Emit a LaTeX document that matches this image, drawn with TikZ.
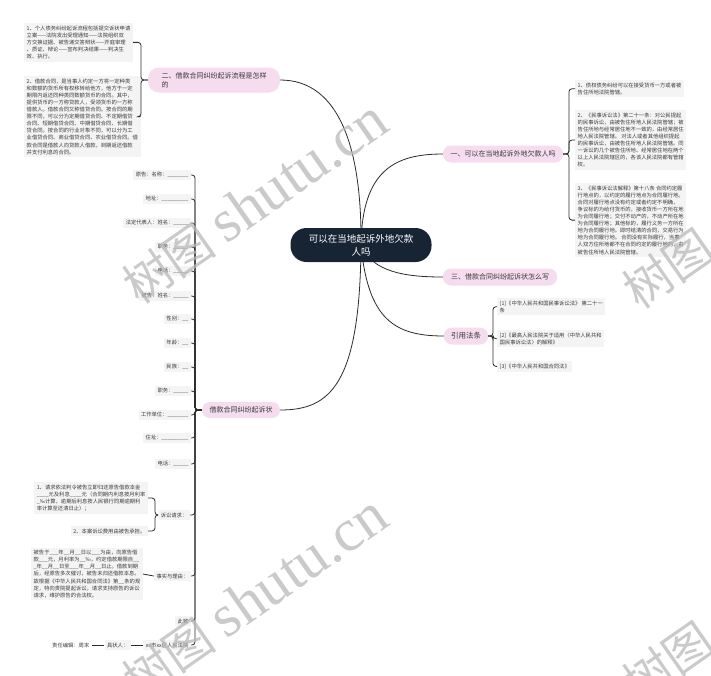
\documentclass[tikz,border=0pt]{standalone}
\usepackage{fontspec}
\setmainfont{Noto Sans CJK SC}
\newfontfamily\wmlatin{Liberation Serif}
\usetikzlibrary{backgrounds}
\definecolor{navy}{HTML}{172434}
\definecolor{pinkfill}{HTML}{F5DCEE}
\definecolor{leafgray}{HTML}{F4F4F4}
\definecolor{txt}{HTML}{3A3A3A}
\definecolor{linec}{HTML}{2B2B2B}
\begin{document}
\begin{tikzpicture}[x=1pt,y=-1pt,
  root/.style={rectangle, rounded corners=16pt, fill=navy, text=white,
    font=\fontsize{9.5}{13}\selectfont, align=center,
    minimum width=141pt, minimum height=34pt, inner sep=0pt},
  branch/.style={rectangle, rounded corners=8pt, fill=pinkfill, text=txt,
    font=\fontsize{7}{9}\selectfont, inner xsep=4pt, inner ysep=0pt,
    minimum height=17pt, align=left},
  leaf/.style={rectangle, fill=leafgray, text=txt,
    font=\fontsize{5.3}{7.1}\selectfont, align=left,
    inner xsep=2.5pt, inner ysep=2.5pt},
  conn/.style={draw=linec, line width=0.8pt},
  brk/.style={conn, rounded corners=3pt},
  wm/.style={text=black!28, text opacity=0.75, rotate=35, inner sep=0pt,
    font=\fontsize{48}{48}\selectfont}
]
\useasboundingbox (0,0) rectangle (711,675);

% root and branches
\node[root] (root) at (361,245) {可以在当地起诉外地欠款\\人吗};
\node[branch, minimum width=120pt] (b1) at (503,154) {一、可以在当地起诉外地欠款人吗};
\node[branch, minimum width=114pt] (b3) at (500,277) {三、借款合同纠纷起诉状怎么写};
\node[branch, minimum width=44pt, font=\fontsize{7.5}{9}\selectfont] (b4) at (466,336) {引用法条};
\node[branch, minimum width=132pt, minimum height=25pt, rounded corners=11pt] (b2) at (214,80) {二、借款合同纠纷起诉流程是怎样\\的};
\node[branch, minimum width=78pt, minimum height=16pt] (b5) at (241,410) {借款合同纠纷起诉状};

% leaves of b1
\node[leaf, anchor=north west] (l1a) at (575,80) {1、债权债务纠纷可以在接受货币一方或者被\\告住所地法院管辖。};
\node[leaf, anchor=north west] (l1b) at (575,110) {2、《民事诉讼法》第二十一条：对公民提起\\的民事诉讼，由被告住所地人民法院管辖；被\\告住所地与经常居住地不一致的，由经常居住\\地人民法院管辖。 对法人或者其他组织提起\\的民事诉讼，由被告住所地人民法院管辖。同\\一诉讼的几个被告住所地、经常居住地在两个\\以上人民法院辖区的，各该人民法院都有管辖\\权。};
\node[leaf, anchor=north west] (l1c) at (575,183) {3、《民事诉讼法解释》第十八条 合同约定履\\行地点的，以约定的履行地点为合同履行地。\\ 合同对履行地点没有约定或者约定不明确，\\争议标的为给付货币的，接收货币一方所在地\\为合同履行地；交付不动产的，不动产所在地\\为合同履行地；其他标的，履行义务一方所在\\地为合同履行地。即时结清的合同，交易行为\\地为合同履行地。 合同没有实际履行，当事\\人双方住所地都不在合同约定的履行地的，由\\被告住所地人民法院管辖。};

% leaves of b2
\node[leaf, anchor=north west] (l2a) at (24,23) {1、个人债务纠纷起诉流程包括提交诉状申请\\立案——法院发出受理通知——法院组织双\\方交换证据、被告递交答辩状——开庭审理\\、质证、辩论——宣布判决结果——判决生\\效、执行。};
\node[leaf, anchor=north west] (l2b) at (24,76) {2、借款合同，是当事人约定一方将一定种类\\和数额的货币所有权移转给他方，他方于一定\\期限内返还同种类同数额货币的合同。其中，\\提供货币的一方称贷款人，受领货币的一方称\\借款人。借款合同又称借贷合同。按合同的期\\限不同，可以分为定期借贷合同、不定期借贷\\合同、短期借贷合同、中期借贷合同、长期借\\贷合同。按合同的行业对象不同，可以分为工\\业借贷合同、商业借贷合同、农业借贷合同。借\\款合同是借款人向贷款人借款，到期返还借款\\并支付利息的合同。};

% leaves of b4
\node[leaf, anchor=north west] (l4a) at (497,298) {[1]《中华人民共和国民事诉讼法》 第二十一\\条};
\node[leaf, anchor=north west] (l4b) at (497,330) {[2]《最高人民法院关于适用〈中华人民共和\\国民事诉讼法〉的解释》};
\node[leaf, anchor=north west] (l4c) at (497,361) {[3]《中华人民共和国合同法》};

% leaves of b5
\node[leaf, anchor=east] (s1) at (191,175) {原告：名称：\_\_\_\_\_\_\_};
\node[leaf, anchor=east] (s2) at (191,199) {地址：\_\_\_\_\_\_\_\_\_};
\node[leaf, anchor=east] (s3) at (191,223) {法定代表人：姓名：\_\_\_\_\_};
\node[leaf, anchor=east] (s4) at (191,247) {职务：\_\_\_\_\_};
\node[leaf, anchor=east] (s5) at (191,271) {电话：\_\_\_\_\_};
\node[leaf, anchor=east] (s6) at (191,296) {被告：姓名：\_\_\_\_\_};
\node[leaf, anchor=east] (s7) at (191,319) {性别：\_\_};
\node[leaf, anchor=east] (s8) at (191,343) {年龄：\_\_};
\node[leaf, anchor=east] (s9) at (191,367) {民族：\_\_};
\node[leaf, anchor=east] (s10) at (191,391) {职务：\_\_\_\_\_};
\node[leaf, anchor=east] (s11) at (191,415) {工作单位：\_\_\_\_\_\_\_};
\node[leaf, anchor=east] (s12) at (191,438) {住址：\_\_\_\_\_\_\_\_\_};
\node[leaf, anchor=east] (s13) at (191,464) {电话：\_\_\_\_\_};
\node[leaf, anchor=east] (sq) at (190,515) {诉讼请求：};
\node[leaf, anchor=east] (sf) at (191,576) {事实与理由：};
\node[leaf, anchor=east] (sz) at (191,621) {此致};
\node[leaf, anchor=east] (court) at (191,645) {xx市xx区人民法院};

\node[leaf, anchor=north east] (q1) at (148,482) {1、请求依法判令被告立即归还原告借款本金\\\_\_\_\_元及利息\_\_\_\_元（合同期内利息按月利率\\\_‰计算，逾期后利息按人民银行同期逾期利\\率计算至还清日止）；};
\node[leaf, anchor=east] (q2) at (148,531) {2、本案诉讼费用由被告承担。};
\node[leaf, anchor=east] (f1) at (143,574) {被告于\_\_\_年\_\_月\_\_日以\_\_\_为由，向原告借\\款\_\_\_元，月利率为\_\_‰，约定借款期限自\_\_\\\_年\_\_月\_\_日至\_\_\_年\_\_月\_\_日止。借款到期\\后，经原告多次催讨，被告未归还借款本息。\\故根据《中华人民共和国合同法》第\_\_条的规\\定，特向贵院提起诉讼，请求支持原告的诉讼\\请求，维护原告的合法权。};
\node[leaf, anchor=east] (jz) at (131,645) {具状人：};
\node[leaf, anchor=east, fill=none] (ed) at (92,645) {责任编辑：周末};

% connectors
\begin{scope}[on background layer]
\draw[conn] (root.center) .. controls (362,150) and (340,80) .. (b2.east);
\draw[conn] (root.center) .. controls (362,170) and (395,154) .. (b1.west);
\draw[conn] (root.center) .. controls (372,272) and (405,277) .. (b3.west);
\draw[conn] (root.center) .. controls (368,320) and (395,336) .. (b4.west);
\draw[conn] (root.center) .. controls (360,385) and (330,410) .. (b5.east);
\end{scope}

\foreach \l in {l1a,l1b,l1c}
  \draw[brk] (b1.east) -- (569,154) |- (\l.west);
\foreach \l in {l2a,l2b}
  \draw[brk] (b2.west) -- (141,80) |- (\l.east);
\foreach \l in {l4a,l4b,l4c}
  \draw[brk] (b4.east) -- (493,336) |- (\l.west);
\foreach \l in {s1,s2,s3,s4,s5,s6,s7,s8,s9,s10,s11,s12,s13,sq,sf,sz,court}
  \draw[brk] (b5.west) -- (195,410) |- (\l.east);
\foreach \l in {q1,q2}
  \draw[brk] (sq.west) -- (155,515) |- (\l.east);
\draw[conn] (sf.west) -- (f1.east);
\draw[conn] (court.west) -- (jz.east);
\draw[conn] (jz.west) -- (ed.east);

% watermarks
\begin{scope}
\clip (0,0) rectangle (711,675);
\node[wm] (wm1) at (255,202) {树图 {\wmlatin\fontsize{60}{60}\selectfont shutu.cn}};
\node[wm] (wm2) at (255,597) {树图 {\wmlatin\fontsize{60}{60}\selectfont shutu.cn}};
\node[wm] (wm3) at (755,207) {树图 {\wmlatin\fontsize{60}{60}\selectfont shutu.cn}};
\node[wm] (wm4) at (755,600) {树图 {\wmlatin\fontsize{60}{60}\selectfont shutu.cn}};
\end{scope}
\end{tikzpicture}
\end{document}
